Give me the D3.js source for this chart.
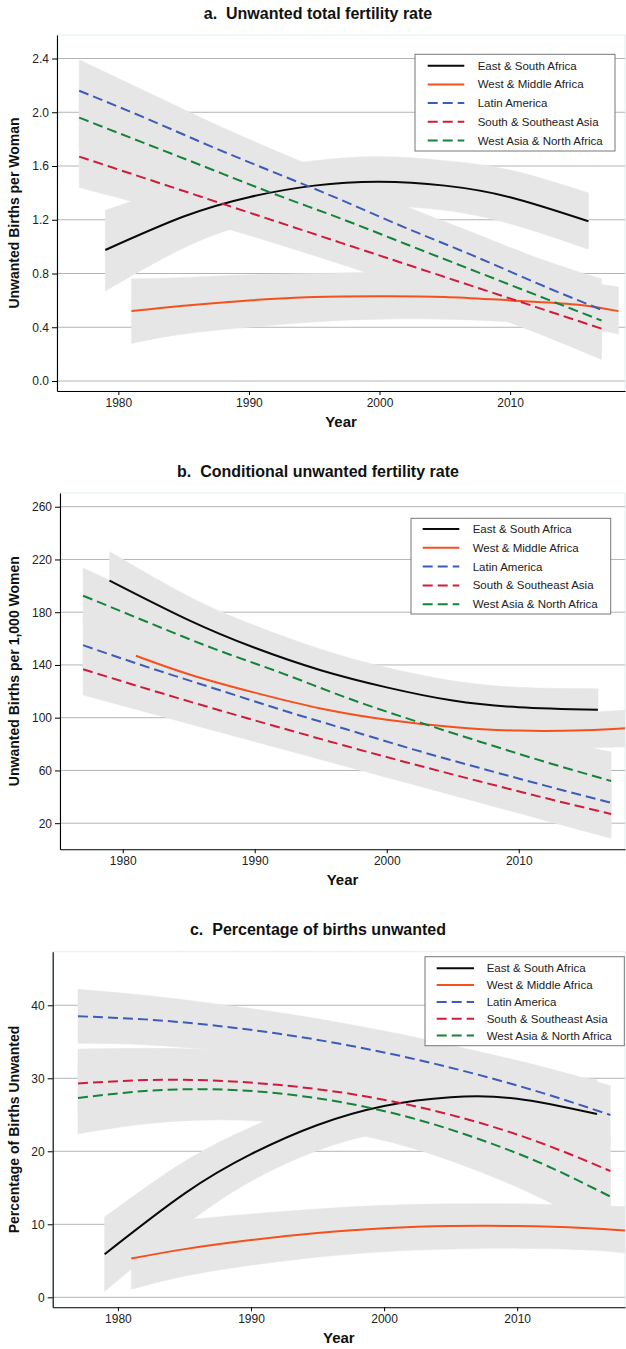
<!DOCTYPE html>
<html><head><meta charset="utf-8">
<script src="https://cdn.jsdelivr.net/npm/d3@7"></script>
<style>body{margin:0;background:#fff}svg{display:block}text{font-family:"Liberation Sans",Arial,Helvetica,sans-serif}</style>
</head><body><svg id="chart" width="626" height="1349"></svg>
<script>
// ---------- data ----------
const regions=["East & South Africa","West & Middle Africa","Latin America","South & Southeast Asia","West Asia & North Africa"];
const xTicks=[1980,1990,2000,2010];

// Panel a: Unwanted total fertility rate
const aTicks=[0,0.4,0.8,1.2,1.6,2.0,2.4];
const aYearsESA=[1979,1985,1990,1995,2000,2005,2010,2016];
const aESA=[0.975,1.224,1.368,1.454,1.483,1.454,1.368,1.189];
const aESALo=[0.67,0.99,1.17,1.27,1.30,1.27,1.17,0.98];
const aESAHi=[1.27,1.46,1.57,1.64,1.67,1.64,1.57,1.40];
const aYearsWMA=[1981,1985,1990,1995,2000,2005,2010,2015,2018.3];
const aWMA=[0.52,0.56,0.60,0.625,0.63,0.625,0.60,0.57,0.52];
const aWMALo=[0.28,0.35,0.40,0.44,0.46,0.46,0.44,0.40,0.35];
const aWMAHi=[0.76,0.77,0.79,0.80,0.81,0.80,0.78,0.74,0.70];
const aYearsOther=[1977,1982,1987,1992,1997,2002,2007,2012,2017];
const aLA=[2.16,1.96,1.75,1.55,1.35,1.14,0.94,0.73,0.53];
const aLALo=[1.93,1.76,1.57,1.385,1.19,0.98,0.77,0.54,0.30];
const aLAHi=[2.39,2.16,1.93,1.715,1.51,1.30,1.11,0.92,0.76];
const aSSA=[1.67,1.51,1.35,1.19,1.03,0.87,0.71,0.55,0.39];
const aSSALo=[1.44,1.31,1.17,1.025,0.87,0.71,0.54,0.36,0.16];
const aSSAHi=[1.90,1.71,1.53,1.355,1.19,1.03,0.88,0.74,0.62];
const aWANA=[1.96,1.77,1.58,1.39,1.21,1.02,0.83,0.64,0.45];
const aWANALo=[1.73,1.57,1.40,1.225,1.05,0.86,0.66,0.45,0.22];
const aWANAHi=[2.19,1.97,1.76,1.555,1.37,1.18,1.00,0.83,0.68];

// Panel b: Conditional unwanted fertility rate
const bTicks=[20,60,100,140,180,220,260];
const bYearsESA=[1979,1985,1990,1995,2000,2005,2010,2016];
const bESA=[204,174,153,136,123,113,108,106];
const bESALo=[182,156,137,121,109,99,94,91];
const bESAHi=[226,192,170,152,138,128,123,122];
const bYearsWMA=[1981,1985,1990,1995,2000,2005,2010,2015,2018.3];
const bWMA=[147,133,119,107,98.5,93,90.2,90.5,92.2];
const bWMALo=[127,116,105,95,87,81,77,77,78];
const bWMAHi=[167,150,133,120,110,105,103.5,104,106];
const bYearsOther=[1977,1982,1987,1992,1997,2002,2007,2012,2017];
const bLA=[155,138,122,106,91,76,62,48.5,35.5];
const bLALo=[135,120,105.5,90,75.5,60.5,46,31.5,15.5];
const bLAHi=[175,156,138.5,122,106.5,91.5,78,65.5,55.5];
const bSSA=[136.7,121.4,106.6,92.3,78.3,64.8,51.8,39.1,27];
const bSSALo=[117.2,103.6,90,76.4,62.8,49.3,35.7,22.1,8.5];
const bSSAHi=[156.2,139.2,123.2,108.2,93.8,80.3,67.9,56.1,45.5];
const bWANA=[192.5,172,152,134,115,98,82,66.5,52];
const bWANALo=[171.5,153.5,135,118,99.5,82.5,65.5,48,30];
const bWANAHi=[213.5,190.5,169,150,130.5,113.5,98.5,85,74];

// Panel c: Percentage of births unwanted
const cTicks=[0,10,20,30,40];
const cYearsESA=[1979,1985,1990,1995,2000,2005,2010,2016];
const cESA=[5.9,14.2,19.6,23.6,26.2,27.4,27.2,25.1];
const cESALo=[0.8,9.8,15.9,20.1,22.6,23.6,23.3,20.4];
const cESAHi=[11.0,18.6,23.3,27.1,29.8,31.2,31.1,29.8];
const cYearsWMA=[1981,1985,1990,1995,2000,2005,2010,2015,2018.5];
const cWMA=[5.3,6.6,7.85,8.8,9.45,9.75,9.75,9.5,9.1];
const cWMALo=[1.1,2.9,4.4,5.5,6.25,6.6,6.7,6.5,6.0];
const cWMAHi=[9.9,10.6,11.4,12.1,12.6,12.8,12.8,12.6,12.4];
const cYearsOther=[1977,1982,1987,1992,1997,2002,2007,2012,2017];
const cLA=[38.5,38.07,37.28,36.13,34.62,32.75,30.52,27.93,24.98];
const cLALo=[34.8,34.6,33.9,32.9,31.4,29.5,27.1,24.2,20.9];
const cLAHi=[42.2,41.37,40.28,39.03,37.52,35.75,33.72,31.53,28.98];
const cSSA=[29.3,29.75,29.7,29.1,28.0,26.3,24.0,21.0,17.3];
const cSSALo=[24.6,25.4,25.5,25.1,24.1,22.4,19.9,16.5,12.3];
const cSSAHi=[34.0,34.1,33.9,33.1,31.9,30.2,28.1,25.5,22.3];
const cWANA=[27.3,28.25,28.5,27.95,26.65,24.6,21.75,18.2,13.8];
const cWANALo=[22.4,23.75,24.3,23.95,22.65,20.5,17.35,13.4,8.5];
const cWANAHi=[32.2,32.75,32.7,31.95,30.65,28.7,26.15,23.0,19.1];

// ---------- style ----------
const colors=["#0a0a0a","#f4511e","#3d5cb8","#d01c3c","#14843a"];
const dashes=[null,null,"10,5","10,5","10,5"];
const bandColor="#e6e6e6";

function series(years,vals,lo,hi){return years.map((x,i)=>({x:x,v:vals[i],lo:lo[i],hi:hi[i]}));}

const panels=[
 {title:"a.\u00a0\u00a0Unwanted total fertility rate",ylabel:"Unwanted Births per Woman",ticks:aTicks,fmt:d3.format(".1f"),
  box:{l:57,r:625,t:35,b:391},xDom:[1975.3,2018.8],yDom:[-0.0744,2.575],titleY:13,yearY:422,ylabX:14,
  legend:{x0:415,y0:54.3,x1:615,y1:151,lx0:427.7,lx1:464.3,tx:477.7,rowY:65.7,rowH:18.7},
  data:[series(aYearsESA,aESA,aESALo,aESAHi),series(aYearsWMA,aWMA,aWMALo,aWMAHi),
        series(aYearsOther,aLA,aLALo,aLAHi),series(aYearsOther,aSSA,aSSALo,aSSAHi),series(aYearsOther,aWANA,aWANALo,aWANAHi)]},
 {title:"b.\u00a0\u00a0Conditional unwanted fertility rate",ylabel:"Unwanted Births per 1,000 Women",ticks:bTicks,fmt:d3.format("d"),
  box:{l:60,r:625,t:493,b:849.3},xDom:[1975.25,2018.05],yDom:[0.2,270.4],titleY:471,yearY:880,ylabX:14,
  legend:{x0:411,y0:518.3,x1:610.7,y1:614,lx0:422.7,lx1:459.3,tx:472.7,rowY:529,rowH:18.8},
  data:[series(bYearsESA,bESA,bESALo,bESAHi),series(bYearsWMA,bWMA,bWMALo,bWMAHi),
        series(bYearsOther,bLA,bLALo,bLAHi),series(bYearsOther,bSSA,bSSALo,bSSAHi),series(bYearsOther,bWANA,bWANALo,bWANAHi)]},
 {title:"c.\u00a0\u00a0Percentage of births unwanted",ylabel:"Percentage of Births Unwanted",ticks:cTicks,fmt:d3.format("d"),
  box:{l:52.7,r:625,t:951.7,b:1307.3},xDom:[1975.1,2018.1],yDom:[-1.37,47.34],titleY:929,yearY:1338,ylabX:14,
  legend:{x0:425,y0:956.7,x1:624.3,y1:1045.7,lx0:436.7,lx1:474,tx:486.7,rowY:968.3,rowH:16.8},
  data:[series(cYearsESA,cESA,cESALo,cESAHi),series(cYearsWMA,cWMA,cWMALo,cWMAHi),
        series(cYearsOther,cLA,cLALo,cLAHi),series(cYearsOther,cSSA,cSSALo,cSSAHi),series(cYearsOther,cWANA,cWANALo,cWANAHi)]}
];

const svg=d3.select("#chart");

panels.forEach((p,pi)=>{
  const B=p.box;
  const x=d3.scaleLinear().domain(p.xDom).range([B.l,B.r]);
  const y=d3.scaleLinear().domain(p.yDom).range([B.b,B.t]);
  const g=svg.append("g");
  const clipId="clip"+pi;
  g.append("clipPath").attr("id",clipId).append("rect")
    .attr("x",B.l).attr("y",B.t).attr("width",B.r-B.l).attr("height",B.b-B.t);

  g.append("rect").attr("x",B.l).attr("y",B.t).attr("width",B.r-B.l).attr("height",B.b-B.t)
    .attr("fill","none").attr("stroke","#e2eeee").attr("stroke-width",1);

  g.append("g").selectAll("line").data(p.ticks).join("line")
    .attr("x1",B.l).attr("x2",B.r).attr("y1",d=>y(d)).attr("y2",d=>y(d))
    .attr("stroke","#b4b4b4").attr("stroke-width",1);

  const plot=g.append("g").attr("clip-path",`url(#${clipId})`);
  const area=d3.area().x(d=>x(d.x)).y0(d=>y(d.lo)).y1(d=>y(d.hi)).curve(d3.curveNatural);
  const line=d3.line().x(d=>x(d.x)).y(d=>y(d.v)).curve(d3.curveNatural);

  plot.append("g").selectAll("path").data(p.data).join("path")
    .attr("d",area).attr("fill",bandColor).attr("stroke",bandColor).attr("stroke-width",0.5);

  plot.append("g").selectAll("path").data(p.data).join("path")
    .attr("d",line).attr("fill","none")
    .attr("stroke",(d,i)=>colors[i]).attr("stroke-width",2)
    .attr("stroke-dasharray",(d,i)=>dashes[i]);

  const ya=g.append("g").attr("transform",`translate(${B.l},0)`)
    .call(d3.axisLeft(y).tickValues(p.ticks).tickFormat(p.fmt).tickSize(5).tickSizeOuter(0).tickPadding(3));
  const xa=g.append("g").attr("transform",`translate(0,${B.b})`)
    .call(d3.axisBottom(x).tickValues(xTicks).tickFormat(d3.format("d")).tickSize(4).tickSizeOuter(0).tickPadding(3));
  [ya,xa].forEach(a=>{
    a.select(".domain").attr("stroke","#000").attr("stroke-width",1.1);
    a.selectAll(".tick line").attr("stroke","#000");
    a.selectAll(".tick text").attr("font-size",12).attr("fill","#222")
      .attr("font-family","'Liberation Sans',Arial,sans-serif");
  });

  g.append("text").attr("x",318).attr("y",p.titleY).attr("dy","0.35em").attr("text-anchor","middle")
    .attr("font-size",16).attr("font-weight","bold").attr("fill","#111").text(p.title);
  g.append("text").attr("x",(B.l+B.r)/2).attr("y",p.yearY).attr("dy","0.35em").attr("text-anchor","middle")
    .attr("font-size",15).attr("font-weight","bold").attr("fill","#111").text("Year");
  g.append("text").attr("transform",`translate(${p.ylabX},${(B.t+B.b)/2}) rotate(-90)`)
    .attr("dy","0.35em").attr("text-anchor","middle")
    .attr("font-size",14).attr("font-weight","bold").attr("fill","#111").text(p.ylabel);

  const L=p.legend;
  const lg=g.append("g");
  lg.append("rect").attr("x",L.x0).attr("y",L.y0).attr("width",L.x1-L.x0).attr("height",L.y1-L.y0)
    .attr("fill","#fff").attr("stroke","#777").attr("stroke-width",1);
  const items=lg.selectAll("g.item").data(regions).join("g").attr("class","item")
    .attr("transform",(d,i)=>`translate(0,${L.rowY+i*L.rowH})`);
  items.append("line").attr("x1",L.lx0).attr("x2",L.lx1).attr("y1",0).attr("y2",0)
    .attr("stroke",(d,i)=>colors[i]).attr("stroke-width",2).attr("stroke-dasharray",(d,i)=>dashes[i]);
  items.append("text").attr("x",L.tx).attr("y",0).attr("dy","0.35em")
    .attr("font-size",11.5).attr("fill","#222").text(d=>d);
});
</script></body></html>
